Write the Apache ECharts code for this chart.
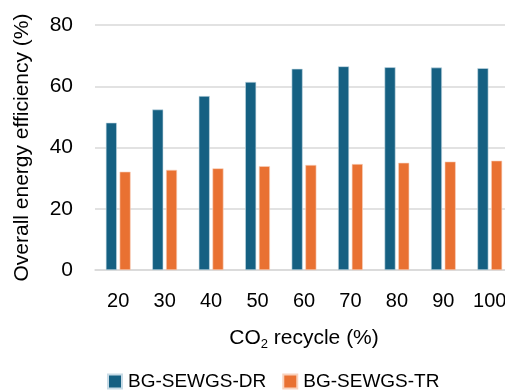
<!DOCTYPE html>
<html>
<head>
<meta charset="utf-8">
<script src="https://cdn.jsdelivr.net/npm/echarts@6/dist/echarts.min.js"></script>
<style>
  html, body { margin: 0; padding: 0; background: #fff; }
  #chart { width: 505px; height: 391px; }
</style>
</head>
<body>
<div id="chart"></div>
<script>
// CO2 recycle ratio (%) on the category axis
const categories = ['20', '30', '40', '50', '60', '70', '80', '90', '100'];
// Overall energy efficiency (%) for each configuration
const drValues = [48.1, 52.4, 56.8, 61.4, 65.7, 66.5, 66.2, 66.1, 65.9];
const trValues = [32.1, 32.7, 33.2, 33.9, 34.3, 34.6, 35.0, 35.4, 35.7];
const seriesNames = ['BG-SEWGS-DR', 'BG-SEWGS-TR'];
const yTicks = [0, 20, 40, 60, 80];

const FONT = '"Liberation Sans", Arial, sans-serif';
const chart = echarts.init(document.getElementById('chart'), null, { renderer: 'canvas' });

chart.setOption({
  animation: false,
  backgroundColor: '#ffffff',
  grid: { left: 95, right: -8, top: 25, bottom: 121, containLabel: false, outerBoundsMode: 'none' },
  legend: {
    data: seriesNames,
    top: 367,
    left: 102,
    itemWidth: 14,
    itemHeight: 14,
    itemGap: 16,
    icon: 'rect',
    textStyle: { fontFamily: FONT, fontSize: 19, color: '#000', padding: [0, 0, 0, 1] }
  },
  xAxis: {
    type: 'category',
    data: categories,
    axisTick: { show: false },
    axisLine: { show: true, lineStyle: { color: '#d9d9d9', width: 1.5 } },
    axisLabel: { fontFamily: FONT, fontSize: 20, color: '#000', margin: 21 },
    name: '{n|CO}{s|2}{n| recycle (%)}',
    nameLocation: 'middle',
    nameGap: 56,
    nameTextStyle: {
      rich: {
        n: { fontFamily: FONT, fontSize: 21, color: '#000' },
        s: { fontFamily: FONT, fontSize: 13, color: '#000', verticalAlign: 'bottom', padding: [12, 0, 0, 0] }
      }
    }
  },
  yAxis: {
    type: 'value',
    min: yTicks[0],
    max: yTicks[yTicks.length - 1],
    interval: yTicks[1] - yTicks[0],
    axisLine: { show: false },
    axisTick: { show: false },
    splitLine: { lineStyle: { color: '#d9d9d9', width: 1.5 } },
    axisLabel: { fontFamily: FONT, fontSize: 21, color: '#000', margin: 22 },
    name: 'Overall energy efficiency (%)',
    nameLocation: 'middle',
    nameGap: 62,
    nameTextStyle: { fontFamily: FONT, fontSize: 21, color: '#000' }
  },
  series: [
    {
      name: seriesNames[0],
      type: 'bar',
      data: drValues,
      barWidth: 11,
      barGap: '25%',
      itemStyle: { color: '#156082', borderColor: '#c8dbe6', borderWidth: 0.6 }
    },
    {
      name: seriesNames[1],
      type: 'bar',
      data: trValues,
      barWidth: 11,
      itemStyle: { color: '#e97132', borderColor: '#f9d2bd', borderWidth: 0.6 }
    }
  ]
});
</script>
</body>
</html>
